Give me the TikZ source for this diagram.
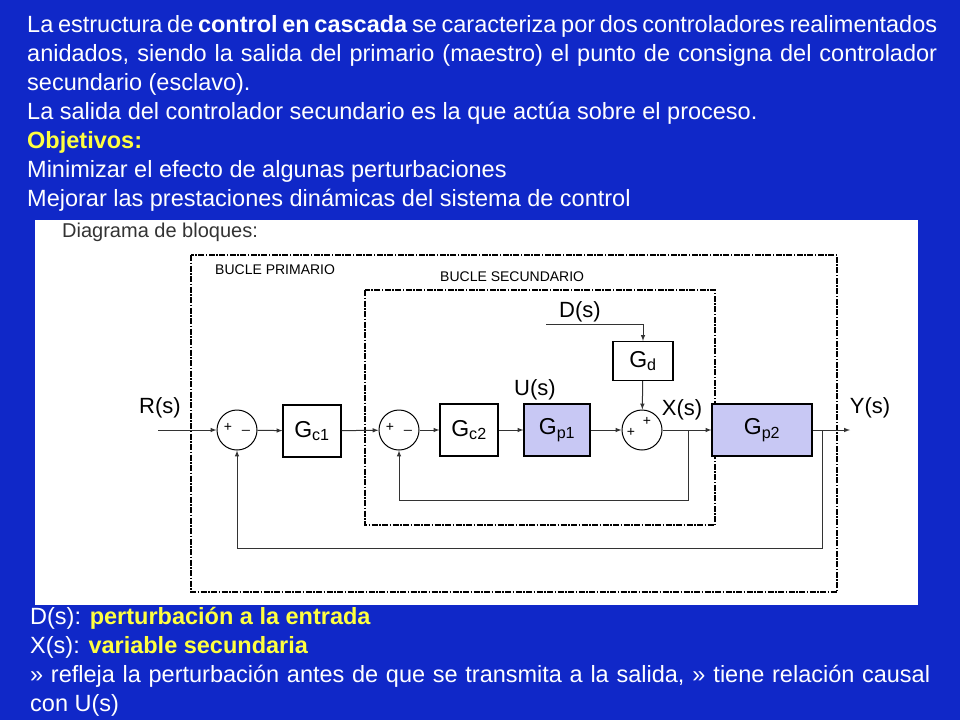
\documentclass[tikz,border=0pt]{standalone}
\usepackage{fontspec}
\setmainfont{Liberation Sans}
\definecolor{bg}{HTML}{1028C8}
\definecolor{yel}{HTML}{FFFF40}
\definecolor{lav}{HTML}{C8C8F4}
\begin{document}
\begin{tikzpicture}[x=1pt,y=-1pt,
  blk/.style={draw,line width=1.2pt,minimum width=#1,minimum height=52pt,inner sep=0pt,font=\fontsize{23}{23}\selectfont},
  blk/.default=58pt,
  sumc/.style={draw,circle,line width=1pt,minimum size=40pt,inner sep=0pt},
  sg/.style={font=\fontsize{14}{14}\selectfont,inner sep=0pt},
  ln/.style={line width=1pt,gray!40!black},
  arr/.style={ln,-latex},
  frame/.style={line width=1.3pt,dash pattern=on 6pt off 1.5pt on 1.5pt off 1.5pt},
  lbl/.style={font=\fontsize{22}{22}\selectfont,inner sep=0pt},
  txt/.style={text=white,font=\fontsize{23.5}{29}\selectfont,inner sep=0pt,anchor=north west}]
\fill[bg] (0,0) rectangle (960,720);
\useasboundingbox (0,0) rectangle (960,720);
\node[txt,text width=910pt,align=justify] (p1) at (27,15) {La estructura de \textbf{control en cascada} se caracteriza por dos controladores realimentados anidados, siendo la salida del primario (maestro) el punto de consigna del controlador secundario (esclavo).\par\raggedright
La salida del controlador secundario es la que actúa sobre el proceso.\\
\textbf{\textcolor{yel}{Objetivos:}}\\
Minimizar el efecto de algunas perturbaciones\\
Mejorar las prestaciones dinámicas del sistema de control};
\fill[white] (35,220) rectangle (918,605);
\node[lbl,anchor=west,font=\fontsize{20}{20}\selectfont,text=black!80] (tt) at (62,232) {Diagrama de bloques:};
\draw[frame] (191,255) rectangle (837,592);
\draw[frame] (365,290) rectangle (715,525);
\node[lbl,anchor=west,font=\fontsize{14}{14}\selectfont] (bp) at (215,270) {BUCLE PRIMARIO};
\node[lbl,anchor=west,font=\fontsize{14}{14}\selectfont] (bs) at (440,277) {BUCLE SECUNDARIO};
\node[sumc] (s1) at (237,430) {};
\node[sumc] (s2) at (399,430) {};
\node[sumc] (s3) at (642,430) {};
\node[sg] at (228,427) {+};
\node[sg] at (246,430) {\_};
\node[sg] at (390,427) {+};
\node[sg] at (408,430) {\_};
\node[sg] at (631,432) {+};
\node[sg] at (647,421) {+};
\node[blk] (gc1) at (312,431) {G\textsubscript{c1}};
\node[blk] (gc2) at (469,430) {G\textsubscript{c2}};
\node[blk=66pt,fill=lav] (gp1) at (557,430) {G\textsubscript{p1}};
\node[blk=60pt,minimum height=39pt] (gd) at (643,361) {G\textsubscript{d}};
\node[blk=100pt,fill=lav] (gp2) at (762,430) {G\textsubscript{p2}};
\node[lbl] (R) at (160,408) {R(s)};
\node[lbl] (U) at (535,390) {U(s)};
\node[lbl] (D) at (580,312) {D(s)};
\node[lbl] (X) at (682,410) {X(s)};
\node[lbl] (Y) at (870,408) {Y(s)};
\coordinate (rin) at (158,430);
\coordinate (dst) at (546,324);
\coordinate (xo) at (688,430);
\coordinate (yo) at (822,430);
\coordinate (yend) at (850,430);
\draw[arr] (rin) -- (s1);
\draw[arr] (s1) -- (gc1);
\draw[arr] (gc1) -- (s2);
\draw[arr] (s2) -- (gc2);
\draw[arr] (gc2) -- (gp1);
\draw[arr] (gp1) -- (s3);
\draw[arr] (dst) -| (gd);
\draw[arr] (gd) -- (s3);
\draw[arr] (s3) -- (gp2);
\draw[arr] (gp2) -- (yend);
\draw[arr] (xo) -- (688,500) -| (s2);
\draw[arr] (yo) -- (822,548) -| (s1);
\node[txt,text width=900pt,align=justify] (p2) at (30,607) {D(s): \textbf{\textcolor{yel}{perturbación a la entrada}}\\
X(s): \textbf{\textcolor{yel}{variable secundaria}}\par
» refleja la perturbación antes de que se transmita a la salida, » tiene relación causal con U(s)};
\end{tikzpicture}
\end{document}
